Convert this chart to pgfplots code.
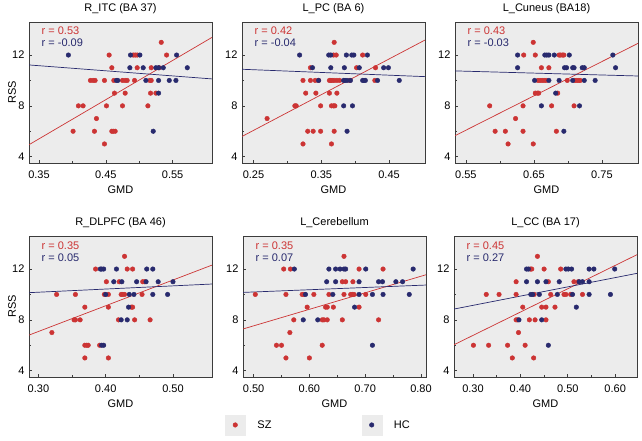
\documentclass[border=0pt]{standalone}
\usepackage{pgfplots}
\pgfplotsset{compat=1.18}
\usepackage{fontspec}
\setmainfont{Liberation Sans}
\definecolor{szred}{RGB}{204,52,52}
\definecolor{hcblue}{RGB}{40,42,110}
\definecolor{bggray}{RGB}{236,236,236}
\definecolor{framegray}{RGB}{60,60,60}
\pgfplotsset{
  panel/.style={
    scale only axis, width=183pt, height=141pt, anchor=south west,
    ymin=3.5, ymax=14.6, ytick={4,8,12},
    minor y tick num=1, minor x tick num=1,
    tick pos=left, tick align=inside,
    major tick length=3pt, minor tick length=2pt,
    axis background/.style={fill=bggray},
    axis line style={framegray, line width=0.8pt},
    every tick/.style={framegray, line width=0.6pt},
    /pgf/number format/assume math mode=true,
    x tick label style={/pgf/number format/.cd, fixed, fixed zerofill, precision=2, /tikz/.cd},
    tick label style={font=\fontsize{11}{13}\selectfont, black},
    x tick label style={anchor=base, yshift=-15pt},
    y tick label style={xshift=-1pt},
    xlabel=GMD,
    xlabel style={at={(axis description cs:0.5,0)}, anchor=base, yshift=-30pt, font=\fontsize{11}{13}\selectfont},
    title style={at={(axis description cs:0.5,1)}, anchor=base, yshift=5pt, font=\fontsize{11}{13}\selectfont},
    ylabel style={at={(axis description cs:-0.093,0.5)}, anchor=center, font=\fontsize{11}{13}\selectfont},
  },
  sz/.style={only marks, mark=*, mark size=2.3pt, color=szred, mark options={draw=szred, fill=szred},
    legend image code/.code={\fill[bggray] (0pt,-10pt) rectangle (20pt,10pt); \draw[mark repeat=2,mark phase=2] plot coordinates {(0pt,0pt) (10pt,0pt) (20pt,0pt)};}},
  hc/.style={only marks, mark=*, mark size=2.3pt, color=hcblue, mark options={draw=hcblue, fill=hcblue},
    legend image code/.code={\fill[bggray] (0pt,-10pt) rectangle (20pt,10pt); \draw[mark repeat=2,mark phase=2] plot coordinates {(0pt,0pt) (10pt,0pt) (20pt,0pt)};}},
  szline/.style={szred, line width=0.7pt, no marks, forget plot},
  hcline/.style={hcblue, line width=0.7pt, no marks, forget plot},
}
\begin{document}
\begin{tikzpicture}[font=\fontsize{11}{13}\selectfont]
\useasboundingbox (0pt,-440pt) rectangle (642pt,0pt);

% ---------- Panel 1 ----------
\begin{axis}[panel, at={(29pt,-163pt)}, xmin=0.335, xmax=0.609, xtick={0.35,0.45,0.55},
  title={R\_ITC (BA 37)}, ylabel={RSS}]
\addplot[sz] table {
0.533 13
0.455 12
0.491 12
0.494 12
0.497 12
0.541 12
0.459 11
0.497 11
0.518 11
0.530 11
0.427 10
0.431 10
0.434 10
0.448 10
0.462 10
0.475 10
0.479 10
0.482 10
0.493 10
0.516 10
0.518 10
0.463 9
0.479 9
0.517 9
0.525 9
0.409 8
0.416 8
0.451 8
0.475 8
0.513 8
0.436 7
0.401 6
0.433 6
0.459 6
0.461 6
0.464 6
0.448 5
};
\addplot[hc] table {
0.394 12
0.487 12
0.501 12
0.556 12
0.486 11
0.506 11
0.525 11
0.529 11
0.536 11
0.572 11
0.466 10
0.468 10
0.510 10
0.529 10
0.545 10
0.555 10
0.529 9
0.521 6
};
\addplot[szline] coordinates {(0.335,4.94) (0.609,13.39)};
\addplot[hcline] coordinates {(0.335,11.22) (0.609,10.12)};
\node[anchor=west, szred] at (axis description cs:0.05,0.936) {r = 0.53};
\node[anchor=west, hcblue] at (axis description cs:0.05,0.852) {r = -0.09};
\end{axis}

% ---------- Panel 2 ----------
\begin{axis}[panel, at={(242pt,-163pt)}, xmin=0.233, xmax=0.503, xtick={0.25,0.35,0.45},
  title={L\_PC (BA 6)}]
\addplot[sz] table {
0.369 13
0.368 12
0.372 12
0.411 12
0.334 11
0.402 11
0.430 11
0.323 10
0.334 10
0.341 10
0.346 10
0.362 10
0.364 10
0.366 10
0.369 10
0.373 10
0.377 10
0.392 10
0.429 10
0.327 9
0.342 9
0.362 9
0.373 9
0.311 8
0.313 8
0.349 8
0.365 8
0.368 8
0.370 8
0.270 7
0.330 6
0.338 6
0.349 6
0.369 6
0.323 5
0.365 5
};
\addplot[hc] table {
0.318 12
0.361 12
0.364 12
0.387 12
0.395 12
0.398 12
0.418 12
0.337 11
0.364 11
0.384 11
0.406 11
0.442 11
0.449 11
0.346 10
0.383 10
0.385 10
0.388 10
0.393 10
0.411 10
0.413 10
0.415 10
0.433 10
0.465 10
0.383 8
0.396 8
0.388 6
};
\addplot[szline] coordinates {(0.233,5.59) (0.503,13.18)};
\addplot[hcline] coordinates {(0.233,10.88) (0.503,10.30)};
\node[anchor=west, szred] at (axis description cs:0.05,0.936) {r = 0.42};
\node[anchor=west, hcblue] at (axis description cs:0.05,0.852) {r = -0.04};
\end{axis}

% ---------- Panel 3 ----------
\begin{axis}[panel, at={(455pt,-163pt)}, xmin=0.534, xmax=0.803, xtick={0.55,0.65,0.75},
  title={L\_Cuneus (BA18)}]
\addplot[sz] table {
0.649 13
0.635 12
0.652 12
0.687 12
0.689 12
0.692 12
0.694 12
0.661 11
0.672 11
0.656 10
0.659 10
0.662 10
0.665 10
0.668 10
0.699 10
0.710 10
0.713 10
0.716 10
0.718 10
0.652 9
0.655 9
0.657 9
0.685 9
0.585 8
0.634 8
0.676 8
0.709 8
0.623 7
0.593 6
0.608 6
0.634 6
0.683 6
0.612 5
0.649 5
};
\addplot[hc] table {
0.626 12
0.666 12
0.669 12
0.672 12
0.680 12
0.702 12
0.766 12
0.626 11
0.695 11
0.698 11
0.707 11
0.709 11
0.721 11
0.724 11
0.770 11
0.651 10
0.672 10
0.687 10
0.707 10
0.724 10
0.740 10
0.682 9
0.661 8
0.717 8
0.694 6
};
\addplot[szline] coordinates {(0.534,5.65) (0.803,12.92)};
\addplot[hcline] coordinates {(0.534,10.75) (0.803,10.35)};
\node[anchor=west, szred] at (axis description cs:0.05,0.936) {r = 0.43};
\node[anchor=west, hcblue] at (axis description cs:0.05,0.852) {r = -0.03};
\end{axis}

% ---------- Panel 4 ----------
\begin{axis}[panel, at={(29pt,-377pt)}, xmin=0.286, xmax=0.558, xtick={0.30,0.40,0.50},
  title={R\_DLPFC (BA 46)}, ylabel={RSS}]
\addplot[sz] table {
0.428 13
0.385 12
0.432 12
0.440 12
0.401 11
0.420 11
0.455 11
0.458 11
0.327 10
0.355 10
0.398 10
0.404 10
0.423 10
0.425 10
0.428 10
0.454 10
0.369 9
0.404 9
0.438 9
0.440 9
0.353 8
0.355 8
0.362 8
0.419 8
0.443 8
0.466 8
0.320 7
0.369 6
0.372 6
0.374 6
0.391 6
0.369 5
0.404 5
};
\addplot[hc] table {
0.392 12
0.394 12
0.397 12
0.416 12
0.461 12
0.470 12
0.412 11
0.424 11
0.446 11
0.460 11
0.478 11
0.500 11
0.400 10
0.435 10
0.442 10
0.470 10
0.492 10
0.434 9
0.423 8
0.432 8
0.394 6
0.397 6
};
\addplot[szline] coordinates {(0.286,6.8) (0.558,12.31)};
\addplot[hcline] coordinates {(0.286,10.14) (0.558,10.82)};
\node[anchor=west, szred] at (axis description cs:0.05,0.93) {r = 0.35};
\node[anchor=west, hcblue] at (axis description cs:0.05,0.846) {r = 0.05};
\end{axis}

% ---------- Panel 5 ----------
\begin{axis}[panel, at={(243pt,-377pt)}, xmin=0.481, xmax=0.809, xtick={0.50,0.60,0.70,0.80},
  title={L\_Cerebellum},
  legend columns=2, legend cell align=left,
  legend style={at={(axis description cs:-0.098,-0.34)}, anchor=west, draw=none, fill=none,
    inner sep=0pt, outer sep=0pt, font=\fontsize{11}{13}\selectfont,
    /tikz/every odd column/.style={column sep=10pt},
    /tikz/every even column/.style={column sep=88pt}}]
\addplot[sz] table {
0.662 13
0.554 12
0.566 12
0.689 12
0.732 12
0.659 11
0.665 11
0.678 11
0.503 10
0.558 10
0.587 10
0.590 10
0.608 10
0.635 10
0.662 10
0.674 10
0.677 10
0.680 10
0.701 10
0.596 9
0.629 9
0.632 9
0.643 9
0.689 9
0.572 8
0.623 8
0.626 8
0.632 8
0.659 8
0.724 8
0.565 7
0.541 6
0.550 6
0.623 6
0.558 5
0.600 5
};
\addlegendentry{SZ}
\addplot[hc] table {
0.573 12
0.635 12
0.647 12
0.655 12
0.662 12
0.665 12
0.701 12
0.786 12
0.631 11
0.647 11
0.689 11
0.724 11
0.731 11
0.755 11
0.767 11
0.593 10
0.642 10
0.689 10
0.713 10
0.732 10
0.779 10
0.681 9
0.589 8
0.615 8
0.713 6
};
\addlegendentry{HC}
\addplot[szline] coordinates {(0.481,7.28) (0.809,11.55)};
\addplot[hcline] coordinates {(0.481,10.16) (0.809,10.74)};
\node[anchor=west, szred] at (axis description cs:0.05,0.93) {r = 0.35};
\node[anchor=west, hcblue] at (axis description cs:0.05,0.846) {r = 0.07};
\end{axis}

% ---------- Panel 6 ----------
\begin{axis}[panel, at={(454pt,-377pt)}, xmin=0.260, xmax=0.646, xtick={0.30,0.40,0.50,0.60},
  title={L\_CC (BA 17)}]
\addplot[sz] table {
0.436 13
0.421 12
0.424 12
0.450 12
0.485 12
0.391 11
0.459 11
0.513 11
0.522 11
0.328 10
0.355 10
0.391 10
0.429 10
0.464 10
0.492 10
0.496 10
0.506 10
0.531 10
0.405 9
0.445 9
0.454 9
0.473 9
0.391 8
0.394 8
0.419 8
0.431 8
0.454 8
0.396 7
0.301 6
0.333 6
0.373 6
0.410 6
0.383 5
0.428 5
};
\addplot[hc] table {
0.413 12
0.417 12
0.496 12
0.501 12
0.508 12
0.545 12
0.555 12
0.599 12
0.413 11
0.436 11
0.454 11
0.482 11
0.524 11
0.531 11
0.545 11
0.422 10
0.426 10
0.440 10
0.478 10
0.510 10
0.545 10
0.590 10
0.518 9
0.397 8
0.445 8
0.459 6
};
\addplot[szline] coordinates {(0.260,6.04) (0.646,13.13)};
\addplot[hcline] coordinates {(0.260,8.85) (0.646,11.66)};
\node[anchor=west, szred] at (axis description cs:0.05,0.93) {r = 0.45};
\node[anchor=west, hcblue] at (axis description cs:0.05,0.846) {r = 0.27};
\end{axis}
\end{tikzpicture}
\end{document}
